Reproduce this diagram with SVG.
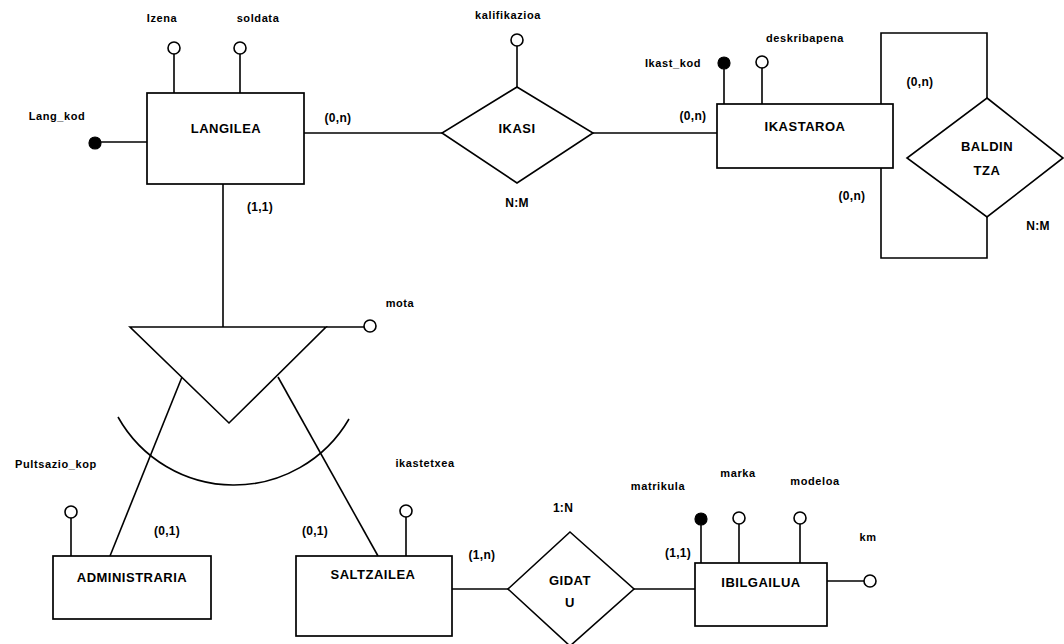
<svg xmlns="http://www.w3.org/2000/svg" width="1064" height="644" viewBox="0 0 1064 644">
<style>
.ent{fill:#fff;stroke:#000;stroke-width:1.7}
.rel{fill:#fff;stroke:#000;stroke-width:1.6}
.ln{fill:none;stroke:#000;stroke-width:1.6}
.att{fill:#fff;stroke:#000;stroke-width:1.6}
.key{fill:#000;stroke:#000;stroke-width:1.2}
text{font-family:"Liberation Sans",Arial,sans-serif;font-weight:bold;fill:#000;text-anchor:middle;dominant-baseline:central}
.en{font-size:13px;letter-spacing:0.5px}
.lb{font-size:11px;letter-spacing:0.6px}
.cd{font-size:12px;letter-spacing:0.3px}
</style>
<rect width="1064" height="644" fill="#fff"/>
<g id="connectors">
<line class="ln" x1="101" y1="142" x2="147" y2="142"/>
<line class="ln" x1="174" y1="54" x2="174" y2="93"/>
<line class="ln" x1="240" y1="54" x2="240" y2="93"/>
<line class="ln" x1="304" y1="133" x2="442" y2="133"/>
<line class="ln" x1="517" y1="46" x2="517" y2="87"/>
<line class="ln" x1="593" y1="133" x2="717" y2="133"/>
<line class="ln" x1="724" y1="69" x2="724" y2="104"/>
<line class="ln" x1="762" y1="68" x2="762" y2="104"/>
<polyline class="ln" points="881,104 881,33 987,33 987,98"/>
<polyline class="ln" points="881,168 881,258 987,258 987,217"/>
<line class="ln" x1="223" y1="184" x2="223" y2="327"/>
<line class="ln" x1="326" y1="327" x2="364" y2="327"/>
<line class="ln" x1="182" y1="377" x2="110" y2="556"/>
<line class="ln" x1="278" y1="377" x2="378" y2="556"/>
<path class="ln" d="M118,417 A133,133 0 0,0 349,419"/>
<line class="ln" x1="71" y1="518" x2="71" y2="556"/>
<line class="ln" x1="406" y1="517" x2="406" y2="556"/>
<line class="ln" x1="452" y1="589" x2="508" y2="589"/>
<line class="ln" x1="634" y1="589" x2="695" y2="589"/>
<line class="ln" x1="701" y1="525" x2="701" y2="563"/>
<line class="ln" x1="739" y1="524" x2="739" y2="563"/>
<line class="ln" x1="800" y1="524" x2="800" y2="563"/>
<line class="ln" x1="827" y1="581" x2="864" y2="581"/>
</g>
<g id="labels">
<text class="cd" x="338" y="118">(0,n)</text>
<text class="cd" x="260" y="207">(1,1)</text>
<text class="cd" x="693" y="116">(0,n)</text>
<text class="cd" x="920" y="82">(0,n)</text>
<text class="cd" x="852" y="196">(0,n)</text>
<text class="cd" x="167" y="531">(0,1)</text>
<text class="cd" x="315" y="531">(0,1)</text>
<text class="cd" x="482" y="555">(1,n)</text>
<text class="cd" x="678" y="553">(1,1)</text>
</g>
<g id="LANGILEA">
<rect class="ent" x="147" y="93" width="157" height="91"/>
<text class="en" x="226" y="128">LANGILEA</text>
</g>
<g id="IKASTAROA">
<rect class="ent" x="717" y="104" width="176" height="64"/>
<text class="en" x="805" y="126">IKASTAROA</text>
</g>
<g id="ADMINISTRARIA">
<rect class="ent" x="53" y="556" width="158" height="63"/>
<text class="en" x="132" y="577">ADMINISTRARIA</text>
</g>
<g id="SALTZAILEA">
<rect class="ent" x="296" y="556" width="156" height="80"/>
<text class="en" x="373" y="574">SALTZAILEA</text>
</g>
<g id="IBILGAILUA">
<rect class="ent" x="695" y="563" width="132" height="63"/>
<text class="en" x="761" y="582">IBILGAILUA</text>
</g>
<g id="IKASI">
<polygon class="rel" points="517,87 593,133 517,183 442,133"/>
<text class="en" x="517" y="128">IKASI</text>
<text class="cd" x="517" y="203">N:M</text>
</g>
<g id="BALDINTZA">
<polygon class="rel" points="987,98 1063,158 987,217 907,158"/>
<text class="en" x="987" y="146">BALDIN</text>
<text class="en" x="987" y="170">TZA</text>
<text class="cd" x="1038" y="226">N:M</text>
</g>
<g id="GIDATU">
<polygon class="rel" points="570,532 634,589 570,646 508,589"/>
<text class="en" x="570" y="580">GIDAT</text>
<text class="en" x="570" y="602">U</text>
<text class="cd" x="563" y="508">1:N</text>
</g>
<g id="specialization">
<polygon class="rel" points="130,327 326,327 229,423"/>
</g>
<g id="attr-Lang_kod"><circle class="key" cx="95" cy="143" r="6"/><text class="lb" x="57" y="116">Lang_kod</text></g>
<g id="attr-Izena"><circle class="att" cx="174" cy="48" r="6"/><text class="lb" x="162" y="18">Izena</text></g>
<g id="attr-soldata"><circle class="att" cx="240" cy="48" r="6"/><text class="lb" x="258" y="18">soldata</text></g>
<g id="attr-kalifikazioa"><circle class="att" cx="517" cy="40" r="6"/><text class="lb" x="508" y="15">kalifikazioa</text></g>
<g id="attr-Ikast_kod"><circle class="key" cx="724" cy="63" r="6"/><text class="lb" x="673" y="63">Ikast_kod</text></g>
<g id="attr-deskribapena"><circle class="att" cx="762" cy="62" r="6"/><text class="lb" x="805" y="38">deskribapena</text></g>
<g id="attr-mota"><circle class="att" cx="370" cy="326" r="6"/><text class="lb" x="400" y="303">mota</text></g>
<g id="attr-Pultsazio_kop"><circle class="att" cx="71" cy="512" r="6"/><text class="lb" x="56" y="464">Pultsazio_kop</text></g>
<g id="attr-ikastetxea"><circle class="att" cx="406" cy="511" r="6"/><text class="lb" x="425" y="463">ikastetxea</text></g>
<g id="attr-matrikula"><circle class="key" cx="701" cy="519" r="6"/><text class="lb" x="658" y="486">matrikula</text></g>
<g id="attr-marka"><circle class="att" cx="739" cy="518" r="6"/><text class="lb" x="738" y="473">marka</text></g>
<g id="attr-modeloa"><circle class="att" cx="800" cy="518" r="6"/><text class="lb" x="815" y="481">modeloa</text></g>
<g id="attr-km"><circle class="att" cx="870" cy="581" r="6"/><text class="lb" x="868" y="537">km</text></g>
</svg>
